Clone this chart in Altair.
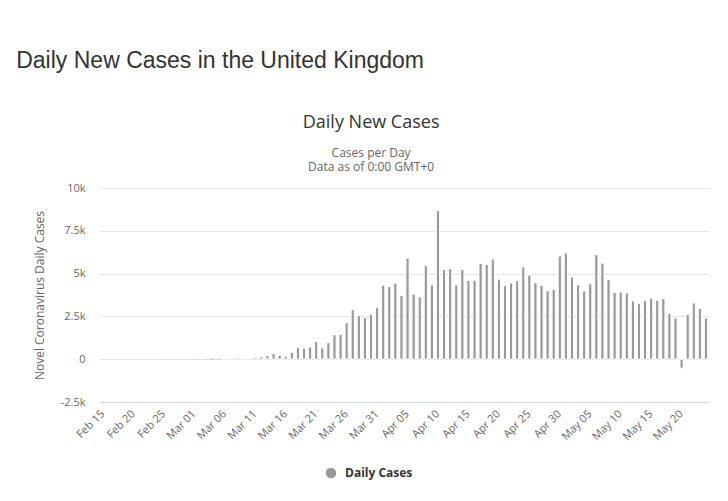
import altair as alt
import pandas as pd

dates = [d.strftime("%b %d") for d in pd.date_range("2020-02-15", "2020-05-24")]

cases = [
    0, 0, 0, 0, 0, 0, 0, 0, 0, 0,            # Feb 15 - Feb 24
    4, 0, 2, 5, 3,                            # Feb 25 - Feb 29
    13, 4, 11, 34, 30, 48, 43, 67, 48, 52,    # Mar 01 - Mar 10
    83, 134, 208, 342, 232, 171, 407, 676, 643, 714,   # Mar 11 - Mar 20
    1035, 665, 967, 1427, 1452, 2129, 2885, 2546, 2433, 2619,  # Mar 21 - Mar 30
    3009,                                     # Mar 31
    4324, 4244, 4450, 3735, 5903, 3802, 3634, 5491, 4344, 8681,  # Apr 01 - Apr 10
    5233, 5288, 4342, 5252, 4603, 4617, 5599, 5526, 5850, 4676,  # Apr 11 - Apr 20
    4301, 4451, 4583, 5386, 4913, 4463, 4309, 3996, 4076, 6032,  # Apr 21 - Apr 30
    6201, 4806, 4339, 3985, 4406, 6111, 5614, 4649, 3896, 3923,  # May 01 - May 10
    3877, 3403, 3242, 3446, 3560, 3451, 3534, 2684, 2412, -525,  # May 11 - May 20
    2615, 3287, 2959, 2409,                   # May 21 - May 24
]

series_name = "Daily Cases"
tick_dates = dates[::5]
y_ticks = [-2500, 0, 2500, 5000, 7500, 10000]

df = pd.DataFrame({"date": dates, "cases": cases, "series": series_name})

FONT = "Open Sans"

bars = alt.Chart(df).mark_bar(size=3.2, stroke="#ffffff", strokeWidth=1).encode(
    x=alt.X(
        "date:N",
        sort=dates,
        scale=alt.Scale(paddingInner=0, paddingOuter=0),
        axis=alt.Axis(
            title=None,
            values=tick_dates,
            labelAngle=-45,
            labelAlign="right",
            labelBaseline="middle",
            labelPadding=10,
            labelFont=FONT,
            labelFontSize=11,
            labelColor="#666666",
            ticks=False,
            domainColor="#ccd6eb",
            domainWidth=1,
            grid=False,
            labelOverlap=False,
        ),
    ),
    y=alt.Y(
        "cases:Q",
        scale=alt.Scale(domain=[-2500, 10000], nice=False, zero=False),
        axis=alt.Axis(
            title="Novel Coronavirus Daily Cases",
            titleFont=FONT,
            titleFontSize=12,
            titleFontWeight="normal",
            titleColor="#666666",
            titlePadding=14,
            values=y_ticks,
            labelExpr="datum.value == 0 ? '0' : (datum.value / 1000) + 'k'",
            labelFont=FONT,
            labelFontSize=11,
            labelColor="#666666",
            labelPadding=15,
            ticks=False,
            domain=False,
            grid=True,
            gridColor="#e6e6e6",
            gridWidth=1,
        ),
    ),
    strokeOpacity=alt.condition("abs(datum.cases) < 40", alt.value(0), alt.value(1)),
    color=alt.Color(
        "series:N",
        scale=alt.Scale(range=["#999999"]),
        legend=alt.Legend(
            title=None,
            orient="none",
            legendX=225,
            legendY=279,
            symbolType="circle",
            symbolSize=110,
            symbolStrokeWidth=0,
            labelOffset=8,
            labelFont=FONT,
            labelFontSize=12,
            labelFontWeight="bold",
            labelColor="#333333",
        ),
    ),
).properties(
    width=609,
    height=214,
    title=alt.TitleParams(
        "Daily New Cases",
        subtitle=["Cases per Day", "Data as of 0:00 GMT+0"],
        anchor="middle",
        frame="bounds",
        font=FONT,
        fontSize=18,
        fontWeight="normal",
        color="#333333",
        subtitleFont=FONT,
        subtitleFontSize=12,
        subtitleColor="#666666",
        subtitlePadding=16,
        subtitleLineHeight=14.5,
        offset=9,
    ),
)

chart = alt.vconcat(bars).properties(
    title=alt.TitleParams(
        "Daily New Cases in the United Kingdom",
        anchor="start",
        font="Liberation Sans",
        fontSize=23,
        fontWeight="normal",
        color="#333333",
        dx=-17,
        offset=41,
    ),
    padding={"left": 8, "top": 41, "right": 5, "bottom": 5},
).configure_view(stroke=None).configure_concat(spacing=0)

chart.save("out.html", embed_options={"renderer": "svg", "actions": False})
